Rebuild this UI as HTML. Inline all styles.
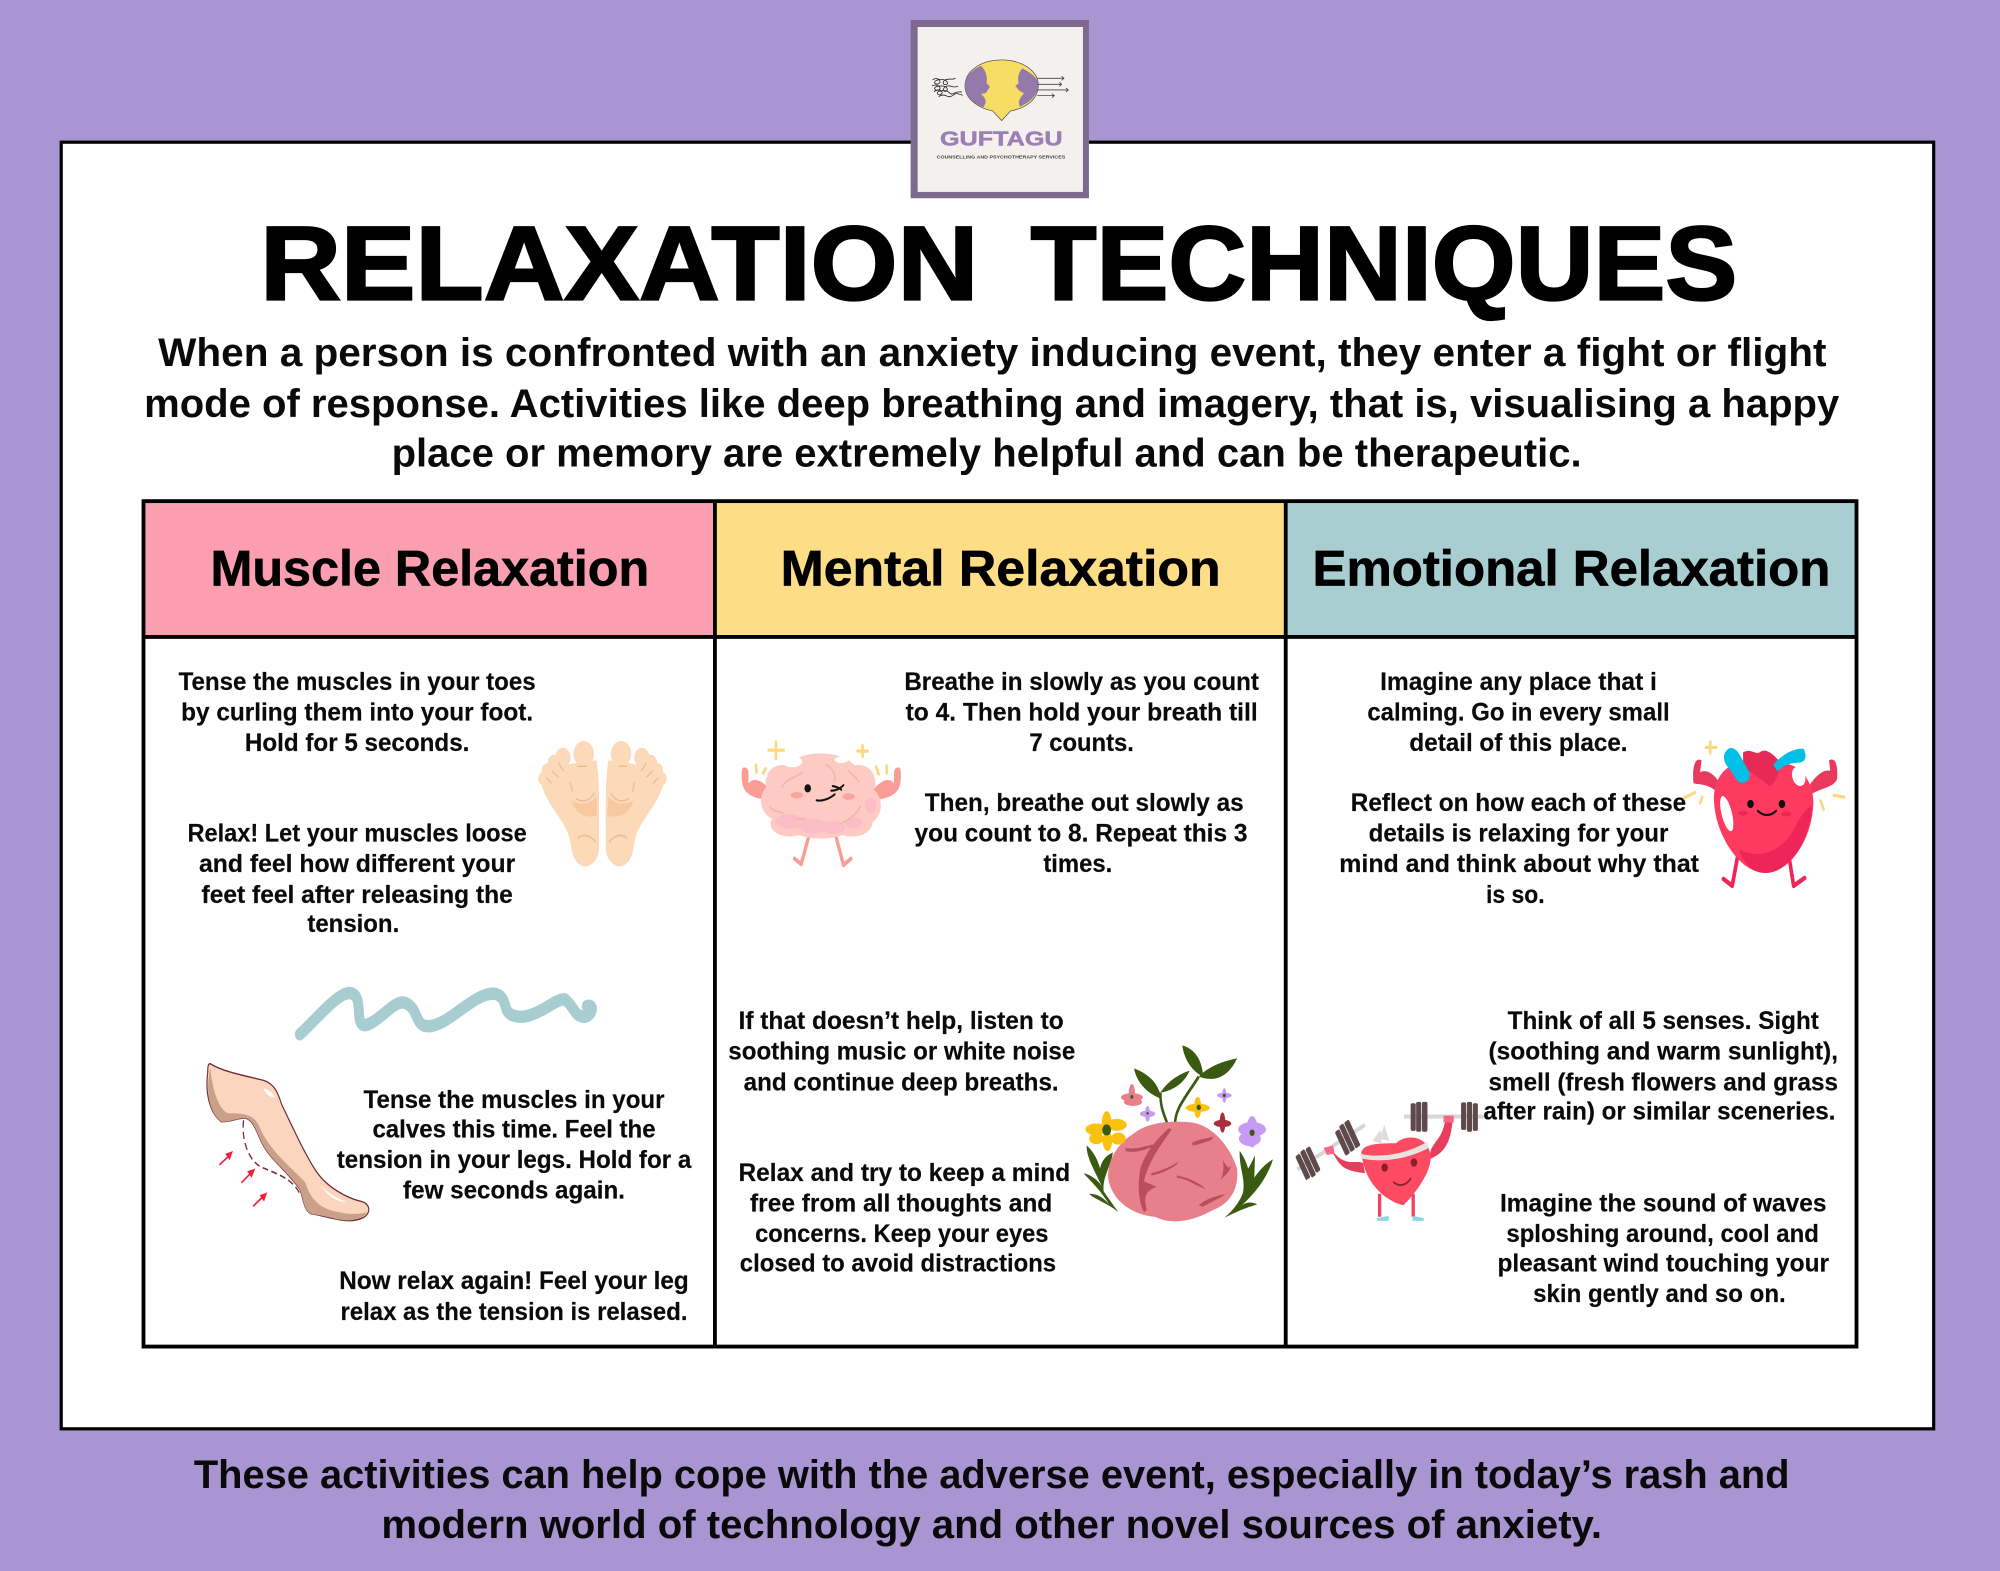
<!DOCTYPE html>
<html lang="en"><head><meta charset="utf-8"><title>Relaxation Techniques</title>
<style>
html,body{margin:0;padding:0;background:#a995d1;width:2000px;height:1571px;overflow:hidden}
svg{display:block}
text{font-family:"Liberation Sans",sans-serif;font-weight:700;fill:#0a0a0a}
.b text{font-size:19.6px;stroke:#0a0a0a;stroke-width:.15px}
.i text{font-size:31px}
.h text{font-size:39px;fill:#000;stroke:#000;stroke-width:.5px}
.t text{font-size:82px;fill:#000;stroke:#000;stroke-width:1.8px}
</style></head><body>
<svg xmlns="http://www.w3.org/2000/svg" width="2000" height="1571" viewBox="0 0 1568 1232" preserveAspectRatio="none">
<rect width="1568" height="1232" fill="#a995d1"/>
<rect x="48" y="111.500" width="1468" height="1009" fill="#fff" stroke="#000" stroke-width="2.500"/>

<!-- Table -->
<rect x="112.500" y="393" width="447.500" height="106" fill="#fb9fb0"/>
<rect x="560" y="393" width="448" height="106" fill="#fedd87"/>
<rect x="1008" y="393" width="447" height="106" fill="#a8ced1"/>
<g fill="none" stroke="#000" stroke-width="3">
<rect x="112.500" y="393" width="1343" height="663"/>
<path d="M112 499.500H1456M560.500 393V1056M1008 393V1056"/>
</g>

<!-- Title -->
<g class="t">
<text x="204" y="235" textLength="563" lengthAdjust="spacingAndGlyphs">RELAXATION</text>
<text x="808" y="235" textLength="554" lengthAdjust="spacingAndGlyphs">TECHNIQUES</text>
</g>

<g class="i">
<text x="124" y="287" textLength="1308" lengthAdjust="spacingAndGlyphs">When a person is confronted with an anxiety inducing event, they enter a fight or flight</text>
<text x="113" y="327" textLength="1329" lengthAdjust="spacingAndGlyphs">mode of response. Activities like deep breathing and imagery, that is, visualising a happy</text>
<text x="307" y="366" textLength="933" lengthAdjust="spacingAndGlyphs">place or memory are extremely helpful and can be therapeutic.</text>
<text x="152" y="1167" textLength="1251" lengthAdjust="spacingAndGlyphs">These activities can help cope with the adverse event, especially in today’s rash and</text>
<text x="299" y="1206" textLength="957" lengthAdjust="spacingAndGlyphs">modern world of technology and other novel sources of anxiety.</text>
</g>

<g class="h">
<text x="165" y="459" textLength="344" lengthAdjust="spacingAndGlyphs">Muscle Relaxation</text>
<text x="612" y="459" textLength="345" lengthAdjust="spacingAndGlyphs">Mental Relaxation</text>
<text x="1029" y="459" textLength="406" lengthAdjust="spacingAndGlyphs">Emotional Relaxation</text>
</g>

<g class="b">
<text x="140" y="541" textLength="280" lengthAdjust="spacingAndGlyphs">Tense the muscles in your toes</text>
<text x="142" y="565" textLength="276" lengthAdjust="spacingAndGlyphs">by curling them into your foot.</text>
<text x="192" y="589" textLength="176" lengthAdjust="spacingAndGlyphs">Hold for 5 seconds.</text>
<text x="147" y="660" textLength="266" lengthAdjust="spacingAndGlyphs">Relax! Let your muscles loose</text>
<text x="156" y="684" textLength="248" lengthAdjust="spacingAndGlyphs">and feel how different your</text>
<text x="158" y="708" textLength="244" lengthAdjust="spacingAndGlyphs">feet feel after releasing the</text>
<text x="241" y="731" textLength="72" lengthAdjust="spacingAndGlyphs">tension.</text>
<text x="285" y="869" textLength="236" lengthAdjust="spacingAndGlyphs">Tense the muscles in your</text>
<text x="292" y="892" textLength="222" lengthAdjust="spacingAndGlyphs">calves this time. Feel the</text>
<text x="264" y="916" textLength="278" lengthAdjust="spacingAndGlyphs">tension in your legs. Hold for a</text>
<text x="316" y="940" textLength="174" lengthAdjust="spacingAndGlyphs">few seconds again.</text>
<text x="266" y="1011" textLength="274" lengthAdjust="spacingAndGlyphs">Now relax again! Feel your leg</text>
<text x="267" y="1035" textLength="272" lengthAdjust="spacingAndGlyphs">relax as the tension is relased.</text>

<text x="709" y="541" textLength="278" lengthAdjust="spacingAndGlyphs">Breathe in slowly as you count</text>
<text x="710" y="565" textLength="276" lengthAdjust="spacingAndGlyphs">to 4. Then hold your breath till</text>
<text x="807" y="589" textLength="82" lengthAdjust="spacingAndGlyphs">7 counts.</text>
<text x="725" y="636" textLength="250" lengthAdjust="spacingAndGlyphs">Then, breathe out slowly as</text>
<text x="717" y="660" textLength="261" lengthAdjust="spacingAndGlyphs">you count to 8. Repeat this 3</text>
<text x="818" y="684" textLength="54" lengthAdjust="spacingAndGlyphs">times.</text>
<text x="579" y="807" textLength="255" lengthAdjust="spacingAndGlyphs">If that doesn’t help, listen to</text>
<text x="571" y="831" textLength="272" lengthAdjust="spacingAndGlyphs">soothing music or white noise</text>
<text x="583" y="855" textLength="247" lengthAdjust="spacingAndGlyphs">and continue deep breaths.</text>
<text x="579" y="926" textLength="260" lengthAdjust="spacingAndGlyphs">Relax and try to keep a mind</text>
<text x="588" y="950" textLength="237" lengthAdjust="spacingAndGlyphs">free from all thoughts and</text>
<text x="592" y="974" textLength="230" lengthAdjust="spacingAndGlyphs">concerns. Keep your eyes</text>
<text x="580" y="997" textLength="248" lengthAdjust="spacingAndGlyphs">closed to avoid distractions</text>

<text x="1082" y="541" textLength="217" lengthAdjust="spacingAndGlyphs">Imagine any place that i</text>
<text x="1072" y="565" textLength="237" lengthAdjust="spacingAndGlyphs">calming. Go in every small</text>
<text x="1105" y="589" textLength="171" lengthAdjust="spacingAndGlyphs">detail of this place.</text>
<text x="1059" y="636" textLength="263" lengthAdjust="spacingAndGlyphs">Reflect on how each of these</text>
<text x="1073" y="660" textLength="235" lengthAdjust="spacingAndGlyphs">details is relaxing for your</text>
<text x="1050" y="684" textLength="282" lengthAdjust="spacingAndGlyphs">mind and think about why that</text>
<text x="1165" y="708" textLength="46" lengthAdjust="spacingAndGlyphs">is so.</text>
<text x="1182" y="807" textLength="244" lengthAdjust="spacingAndGlyphs">Think of all 5 senses. Sight</text>
<text x="1167" y="831" textLength="274" lengthAdjust="spacingAndGlyphs">(soothing and warm sunlight),</text>
<text x="1167" y="855" textLength="274" lengthAdjust="spacingAndGlyphs">smell (fresh flowers and grass</text>
<text x="1163" y="878" textLength="276" lengthAdjust="spacingAndGlyphs">after rain) or similar sceneries.</text>
<text x="1176" y="950" textLength="256" lengthAdjust="spacingAndGlyphs">Imagine the sound of waves</text>
<text x="1181" y="974" textLength="245" lengthAdjust="spacingAndGlyphs">sploshing around, cool and</text>
<text x="1174" y="997" textLength="260" lengthAdjust="spacingAndGlyphs">pleasant wind touching your</text>
<text x="1202" y="1021" textLength="198" lengthAdjust="spacingAndGlyphs">skin gently and so on.</text>
</g>

<!-- Logo -->
<g transform="translate(689.9,0) scale(.2613)">
<rect x="92" y="60" width="535" height="535" fill="#7f6a8f"/>
<rect x="113" y="81" width="496" height="495" fill="#f3f0ed"/>
<path d="M158 240c8-8 20-4 22 4s-14 12-16 4 20-12 30-8 12 14 2 14-8-14 6-16 20 2 24-4M156 258c10-6 22-2 24 6s-14 10-16 2 24-10 32-6 8 16-2 14 0-18 14-16 14 6 26 0M162 276c8-8 20-8 24 0s-12 12-14 4 22-10 30-6 10 12 20 6 14-4 24-4M176 290c8-6 18-6 24-2s16 2 22-4 14-2 26 2" fill="none" stroke="#222" stroke-width="2.500"/>
<path d="M365 180C300 180 255 215 255 258C255 300 300 325 338 333L365 362L392 333C435 325 475 300 475 255C475 215 430 180 365 180Z" fill="#f7dd63" stroke="#444" stroke-width="2"/>
<path d="M303 197C272 212 255 232 255 258C255 285 275 308 310 322C322 305 318 295 303 282L318 279L330 260L320 250C322 230 320 215 303 197Z" fill="#9479ab"/>
<path d="M427 205C455 220 475 235 475 255C475 280 455 305 420 320C412 305 420 295 432 280L418 272L406 258L416 250C412 235 415 220 427 205Z" fill="#9479ab"/>
<path d="M472 235H550M472 253H545M472 270H565M472 287H522M545 229l7 6-7 6M538 247l7 6-7 6M558 264l7 6-7 6M516 281l7 6-7 6" fill="none" stroke="#444" stroke-width="2.500"/>
<text x="180" y="436" textLength="368" lengthAdjust="spacingAndGlyphs" style="font-size:62px;fill:#9b7fb5;stroke:#9b7fb5;stroke-width:1.500px">GUFTAGU</text>
<text x="170" y="476" textLength="386" lengthAdjust="spacingAndGlyphs" style="font-size:12.500px;fill:#444">COUNSELLING AND PSYCHOTHERAPY SERVICES</text>
</g>

<!-- Column 1 art -->
<g transform="translate(117.6,501.8) scale(.2865,.3605)">
<g>
<circle cx="1187" cy="248" r="28" fill="#fcd9b8"/><circle cx="1130" cy="256" r="21" fill="#fcd9b8"/><circle cx="1106" cy="268" r="18" fill="#fcd9b8"/><circle cx="1088" cy="284" r="16" fill="#fcd9b8"/><circle cx="1076" cy="302" r="14" fill="#fcd9b8"/>
<path d="M1068 305C1100 275 1150 268 1222 262C1232 320 1228 380 1229 450C1229 480 1205 493 1190 493C1165 490 1155 470 1150 440C1143 395 1085 365 1068 305Z" fill="#fcd9b8"/>
<path d="M1152 350C1180 362 1205 355 1222 342L1224 382C1200 388 1170 385 1152 350Z" fill="#f8c8a0"/>
<path d="M1170 432C1185 420 1205 425 1220 440M1150 310l6 20M1165 345c20 10 40 5 50-12M1100 285l18 14M1118 268l14 18M1085 300l14 12M1170 275h25" fill="none" stroke="#eeb98c" stroke-width="3"/>
</g>
<g transform="translate(2476,0) scale(-1,1)">
<circle cx="1187" cy="248" r="28" fill="#fcd9b8"/><circle cx="1130" cy="256" r="21" fill="#fcd9b8"/><circle cx="1106" cy="268" r="18" fill="#fcd9b8"/><circle cx="1088" cy="284" r="16" fill="#fcd9b8"/><circle cx="1076" cy="302" r="14" fill="#fcd9b8"/>
<path d="M1068 305C1100 275 1150 268 1222 262C1232 320 1228 380 1229 450C1229 480 1205 493 1190 493C1165 490 1155 470 1150 440C1143 395 1085 365 1068 305Z" fill="#fcd9b8"/>
<path d="M1152 350C1180 362 1205 355 1222 342L1224 382C1200 388 1170 385 1152 350Z" fill="#f8c8a0"/>
<path d="M1170 432C1185 420 1205 425 1220 440M1150 310l6 20M1165 345c20 10 40 5 50-12M1100 285l18 14M1118 268l14 18M1085 300l14 12M1170 275h25" fill="none" stroke="#eeb98c" stroke-width="3"/>
</g>
<path d="M410 858C450 830 510 770 545 768C590 770 555 840 590 838C630 830 670 780 700 790C740 805 720 845 770 840C830 830 890 765 945 770C990 780 950 820 1020 820C1070 815 1110 780 1135 782C1160 795 1160 820 1190 820C1215 815 1215 790 1195 797" fill="none" stroke="#a8cdd1" stroke-width="27" stroke-linecap="round" stroke-linejoin="round"/>
<path d="M165 922C200 940 270 950 310 958C340 965 350 985 360 1010C390 1060 425 1120 450 1150C480 1190 540 1215 580 1222C605 1228 605 1250 580 1258C540 1272 490 1255 440 1248C420 1240 420 1215 410 1195C380 1160 330 1130 310 1100C290 1070 285 1045 260 1040C240 1040 215 1050 195 1048C165 1030 150 990 158 940C158 925 160 922 165 922Z" fill="#fbd5bd" stroke="#6b2a2f" stroke-width="3"/>
<path d="M165 930C170 980 190 1025 215 1030C250 1030 285 1030 300 1060C325 1110 390 1150 425 1180C440 1220 470 1240 520 1245C540 1250 570 1250 595 1245C580 1262 540 1268 500 1258C470 1252 450 1250 440 1248C420 1240 420 1215 410 1195C380 1160 330 1130 310 1100C290 1070 285 1045 260 1040C240 1040 215 1050 195 1048C165 1030 150 990 165 930Z" fill="#caa08a"/>
<path d="M310 975C325 978 335 985 342 995C325 995 315 985 310 975ZM470 1188C490 1205 510 1215 540 1223C510 1222 485 1210 470 1188Z" fill="#fff"/>
<path d="M256 1045C250 1090 270 1130 300 1145C340 1160 390 1170 410 1205" fill="none" stroke="#7a2a35" stroke-width="3.500" stroke-dasharray="16 9"/>
<g fill="none" stroke="#ee2233" stroke-width="4"><path d="M190 1142L222 1118M250 1181L282 1155M282 1232L316 1206"/></g>
<g fill="#ee2233"><path d="M227 1112L206 1118L218 1132ZM288 1150L266 1156L278 1170ZM321 1202L300 1208L312 1222Z"/></g>
</g>

<!-- Column 2 art -->
<g transform="translate(564.5,501.8) scale(.2865,.3605)">
<path d="M60 282C56 322 65 342 130 348L135 325C112 302 90 300 78 312L78 290C78 276 62 274 60 282ZM494 282C498 322 490 342 425 348L420 325C445 302 465 300 476 312L476 290C476 276 492 274 494 282Z" fill="#f99d96"/>
<path d="M242 430L222 488L204 476M318 430L338 490L358 476" fill="none" stroke="#f99d96" stroke-width="9" stroke-linecap="round" stroke-linejoin="round"/>
<g fill="#fdcac4">
<ellipse cx="275" cy="295" rx="105" ry="48"/><ellipse cx="170" cy="310" rx="45" ry="38"/><ellipse cx="380" cy="310" rx="45" ry="38"/><ellipse cx="160" cy="350" rx="48" ry="42"/><ellipse cx="395" cy="360" rx="45" ry="42"/><ellipse cx="275" cy="350" rx="130" ry="70"/><ellipse cx="190" cy="400" rx="52" ry="28"/><ellipse cx="360" cy="398" rx="57" ry="30"/><ellipse cx="275" cy="410" rx="80" ry="22"/>
</g>
<g fill="#fbbdc6"><ellipse cx="190" cy="395" rx="38" ry="16"/><ellipse cx="255" cy="405" rx="42" ry="16"/><ellipse cx="310" cy="408" rx="32" ry="14"/><ellipse cx="365" cy="398" rx="24" ry="13"/><ellipse cx="412" cy="360" rx="16" ry="16"/></g>
<ellipse cx="198" cy="265" rx="27" ry="12" fill="#fff"/><ellipse cx="332" cy="261" rx="18" ry="7" fill="#fff"/>
<path d="M170 322C180 298 210 302 225 287M290 272C310 280 320 295 312 310M350 285C365 295 375 300 380 310M135 362C150 378 165 372 175 378M200 385C210 392 225 390 235 388M330 400C355 390 375 380 385 360" fill="none" stroke="#f8b3ac" stroke-width="4"/>
<circle cx="240" cy="323" r="9" fill="#111"/>
<path d="M304 328C318 328 328 324 338 316M308 318C316 319 324 321 332 326M264 349C280 352 300 345 314 336" fill="none" stroke="#111" stroke-width="4.500" stroke-linecap="round"/>
<ellipse cx="210" cy="338" rx="17" ry="7" fill="#f9a59d"/><ellipse cx="352" cy="341" rx="17" ry="7" fill="#f9a59d"/>
<path d="M153 222V258M133 240H174M390 230V254M376 242H404M98 272L100 288M125 280L118 290M427 276L434 292M456 274V290" stroke="#fdd77b" stroke-width="7" stroke-linecap="round"/>

<!-- leaves -->
<path d="M1228 1062C1215 1030 1205 1020 1205 985M1245 1055C1245 1020 1270 1000 1310 950" fill="none" stroke="#3a5a12" stroke-width="7"/>
<path d="M1133 932C1175 945 1200 965 1208 998C1175 990 1140 965 1133 932ZM1205 985C1225 960 1255 945 1285 937C1270 965 1240 980 1205 985ZM1265 882C1300 890 1320 915 1322 950C1295 940 1270 915 1265 882ZM1310 950C1340 925 1385 915 1415 910C1395 945 1360 965 1310 950Z" fill="#3a5a12"/>
<path d="M1090 1245C1060 1225 1020 1215 1010 1205C1035 1205 1050 1215 1065 1228C1040 1195 1010 1175 995 1160C1020 1165 1040 1180 1045 1190C1030 1160 1003 1130 1003 1100C1025 1115 1035 1135 1040 1150C1045 1130 1060 1120 1075 1115C1070 1145 1045 1170 1050 1200Z" fill="#3a5a12"/>
<path d="M1380 1257C1410 1245 1440 1235 1470 1228C1450 1220 1435 1225 1425 1232C1470 1200 1500 1165 1513 1130C1490 1140 1470 1160 1462 1170L1464 1122C1455 1135 1450 1145 1445 1150C1440 1135 1430 1120 1422 1112C1420 1150 1440 1175 1430 1205C1420 1225 1400 1245 1380 1257Z" fill="#3a5a12"/>
<path d="M1062 1170C1060 1130 1090 1095 1130 1075C1170 1048 1240 1045 1290 1050C1345 1055 1395 1100 1415 1150C1420 1190 1400 1225 1350 1240C1300 1262 1240 1275 1190 1255C1120 1250 1070 1215 1062 1170Z" fill="#e8808c"/>
<path d="M1228 1062C1190 1090 1165 1115 1150 1150C1142 1190 1145 1220 1160 1245L1168 1240C1160 1215 1160 1200 1195 1190L1160 1178C1170 1140 1200 1105 1236 1065ZM1110 1105C1140 1110 1165 1100 1185 1098L1180 1104C1150 1113 1130 1116 1110 1112ZM1180 1160C1210 1155 1235 1145 1255 1135L1250 1141C1230 1153 1205 1162 1180 1165ZM1290 1095C1310 1085 1335 1085 1350 1080L1345 1088C1325 1093 1310 1098 1295 1100ZM1250 1165C1280 1170 1310 1180 1330 1195L1300 1185C1285 1176 1265 1172 1250 1170ZM1310 1230C1330 1215 1360 1210 1385 1205L1370 1213C1350 1220 1335 1228 1320 1233ZM1375 1130C1385 1145 1395 1155 1400 1140C1395 1160 1380 1165 1370 1175C1378 1160 1380 1145 1375 1130Z" fill="#b94f5c"/>
<g><ellipse cx="1030" cy="1065" rx="30" ry="13" fill="#fcc10e"/><ellipse cx="1085" cy="1055" rx="28" ry="13" fill="#fcc10e"/><ellipse cx="1058" cy="1050" rx="13" ry="25" fill="#fcc10e"/><ellipse cx="1060" cy="1090" rx="13" ry="22" fill="#fcc10e"/><ellipse cx="1090" cy="1085" rx="20" ry="13" fill="#fcc10e"/><ellipse cx="1030" cy="1085" rx="20" ry="12" fill="#fcc10e"/><circle cx="1058" cy="1066" r="12" fill="#3a5a12"/></g>
<g fill="#e8808c"><ellipse cx="1127" cy="990" rx="9" ry="24"/><ellipse cx="1127" cy="995" rx="30" ry="9"/><ellipse cx="1130" cy="1005" rx="25" ry="9"/></g><circle cx="1127" cy="994" r="4" fill="#3a5a12"/>
<g fill="#c79af3"><ellipse cx="1170" cy="1031" rx="7" ry="17"/><ellipse cx="1170" cy="1031" rx="21" ry="7"/><ellipse cx="1380" cy="991" rx="6" ry="16"/><ellipse cx="1380" cy="991" rx="20" ry="6"/><ellipse cx="1456" cy="1070" rx="16" ry="34"/><ellipse cx="1456" cy="1065" rx="38" ry="16"/><ellipse cx="1450" cy="1085" rx="30" ry="16"/></g>
<circle cx="1170" cy="1030" r="3" fill="#3a5a12"/><circle cx="1380" cy="991" r="4" fill="#3a5a12"/><circle cx="1456" cy="1072" r="7" fill="#3a5a12"/>
<g fill="#fcc10e"><ellipse cx="1307" cy="1017" rx="10" ry="23"/><ellipse cx="1307" cy="1018" rx="33" ry="9"/></g><circle cx="1310" cy="1017" r="6" fill="#3a5a12"/>
<g fill="#a9303f"><ellipse cx="1375" cy="1050" rx="8" ry="22"/><ellipse cx="1375" cy="1052" rx="24" ry="8"/></g>
</g>

<!-- Column 3 art -->
<g transform="translate(1011.4,501.8) scale(.2865,.3605)">
<path d="M1150 222V246M1138 234H1166M1122 355L1128 342M1460 368L1452 350M1488 338L1516 342M1078 344L1108 332" stroke="#fdd77b" stroke-width="7" stroke-linecap="round"/>
<path d="M1104 312C1100 275 1108 255 1126 262L1122 288C1145 278 1168 300 1182 318L1168 330C1140 312 1115 315 1104 312ZM1497 302C1500 268 1490 255 1475 262L1478 285C1458 280 1435 300 1420 318L1430 334C1455 322 1490 320 1497 302Z" fill="#e93a5d"/>
<path d="M1225 470L1210 535L1186 520M1365 470L1378 535L1408 518" fill="none" stroke="#ee2558" stroke-width="10" stroke-linecap="round" stroke-linejoin="round"/>
<path d="M1240 245C1260 235 1270 250 1285 245C1300 235 1320 245 1345 270C1385 265 1430 300 1432 350C1432 430 1370 507 1300 507C1230 507 1158 420 1160 340C1163 295 1200 265 1240 270Z" fill="#fe3a60"/>
<path d="M1228 455C1280 480 1350 460 1380 410C1395 385 1410 370 1428 360C1425 430 1370 507 1300 507C1265 507 1240 485 1228 455Z" fill="#ee2558"/>
<path d="M1240 245C1260 235 1270 250 1285 245C1300 235 1320 245 1345 270C1335 300 1320 320 1310 318C1280 295 1260 290 1240 275Z" fill="#e62a55"/>
<path d="M1188 250C1200 225 1222 235 1234 255L1258 290C1260 312 1232 318 1220 302C1205 280 1183 270 1188 250ZM1322 272C1350 245 1385 235 1405 237C1415 250 1412 265 1395 267C1370 267 1345 274 1335 287Z" fill="#00c0e8"/>
<ellipse cx="1392" cy="297" rx="17" ry="22" fill="#fff" transform="rotate(-30 1392 297)"/>
<ellipse cx="1195" cy="378" rx="14" ry="40" fill="#fff" transform="rotate(-18 1195 378)"/>
<circle cx="1260" cy="357" r="9" fill="#111"/><circle cx="1346" cy="357" r="9" fill="#111"/>
<path d="M1280 372C1295 384 1315 384 1330 372" fill="none" stroke="#111" stroke-width="5" stroke-linecap="round"/>
<ellipse cx="1240" cy="377" rx="14" ry="5" fill="#ee2558"/><ellipse cx="1358" cy="379" rx="14" ry="5" fill="#ee2558"/>

<!-- lifting heart -->
<path d="M20 1152L205 1055M312 1037H530" stroke="#d8d6d6" stroke-width="9"/>
<g fill="#5f4a4b"><rect x="330" y="1008" width="14" height="60" rx="4"/><rect x="345" y="1005" width="14" height="65" rx="4"/><rect x="361" y="1005" width="15" height="65" rx="4"/><rect x="468" y="1006" width="14" height="60" rx="4"/><rect x="484" y="1005" width="14" height="65" rx="4"/><rect x="500" y="1008" width="14" height="60" rx="4"/></g>
<g fill="#5f4a4b" transform="rotate(-30 165 1075)"><rect x="130" y="1050" width="14" height="60" rx="4"/><rect x="146" y="1045" width="14" height="65" rx="4"/><rect x="162" y="1045" width="15" height="65" rx="4"/></g>
<g fill="#5f4a4b" transform="rotate(-30 55 1135)"><rect x="25" y="1105" width="14" height="60" rx="4"/><rect x="41" y="1103" width="14" height="65" rx="4"/><rect x="57" y="1105" width="14" height="60" rx="4"/></g>
<path d="M225 1090L248 1065L250 1095ZM245 1085L258 1055L272 1090Z" fill="#ddd"/>
<path d="M245 1205V1255M337 1205V1255" stroke="#f4415f" stroke-width="9"/>
<path d="M238 1258L270 1253V1264H238ZM335 1253L366 1258V1264H335Z" fill="#8fd3ec"/>
<path d="M120 1120C140 1150 155 1155 205 1160L200 1138C175 1130 150 1150 110 1105ZM445 1045C440 1085 430 1115 380 1130L385 1110C400 1085 415 1085 425 1045Z" fill="#e83e5d"/>
<path d="M92 1105L118 1100L122 1118L100 1120ZM420 1035H448V1050H420Z" fill="#f56a7f"/>
<path d="M195 1115C200 1095 250 1095 290 1095C315 1075 380 1075 385 1125C385 1165 330 1215 310 1230C280 1225 205 1195 195 1115Z" fill="#fe4a63"/>
<path d="M192 1118C250 1128 320 1118 375 1092L380 1105C320 1130 250 1138 195 1128Z" fill="#e6e2e0"/>
<circle cx="259" cy="1148" r="9" fill="#8a1f2c"/><circle cx="339" cy="1137" r="9" fill="#8a1f2c"/>
<path d="M284 1180C298 1190 318 1187 330 1172" fill="none" stroke="#8a1f2c" stroke-width="4" stroke-linecap="round"/>
</g>
</svg>
</body></html>
